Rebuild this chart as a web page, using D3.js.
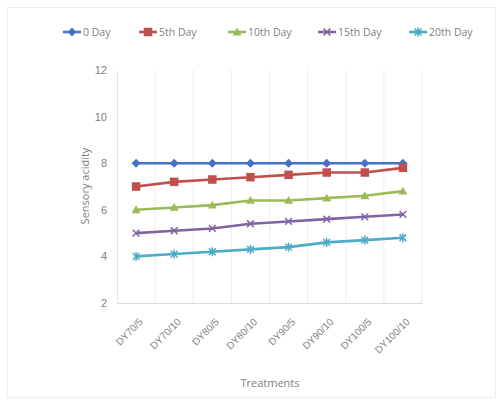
<!DOCTYPE html>
<html>
<head>
<meta charset="utf-8">
<script src="https://cdn.jsdelivr.net/npm/d3@7"></script>
<style>
  body { margin: 0; background: #fff; }
  svg { display: block; font-family: "Open Sans", "Liberation Sans", sans-serif; }
</style>
</head>
<body>
<svg id="chart" width="499" height="402"></svg>
<script>
// Treatments on the x axis
const categories = ["DY70/5", "DY70/10", "DY80/5", "DY80/10", "DY90/5", "DY90/10", "DY100/5", "DY100/10"];

// Sensory acidity scores per storage day
const day0  = [8.0, 8.0, 8.0, 8.0, 8.0, 8.0, 8.0, 8.0];
const day5  = [7.0, 7.2, 7.3, 7.4, 7.5, 7.6, 7.6, 7.8];
const day10 = [6.0, 6.1, 6.2, 6.4, 6.4, 6.5, 6.6, 6.8];
const day15 = [5.0, 5.1, 5.2, 5.4, 5.5, 5.6, 5.7, 5.8];
const day20 = [4.0, 4.1, 4.2, 4.3, 4.4, 4.6, 4.7, 4.8];

const seriesNames = ["0 Day", "5th Day", "10th Day", "15th Day", "20th Day"];
const yTicks = [2, 4, 6, 8, 10, 12];

const seriesValues = [day0, day5, day10, day15, day20];
const colors = ["#4472C4", "#C0504D", "#9BBB59", "#8064A2", "#4BACC6"];
const markers = ["diamond", "square", "triangle", "x", "star"];

const svg = d3.select("#chart");

// faint chart-area frame
svg.append("rect").attr("x", 7.5).attr("y", 7.5).attr("width", 488).attr("height", 390)
  .attr("fill", "#fff").attr("stroke", "#ececec");

const plot = { left: 117, right: 422, top: 70, bottom: 303 };

const x = d3.scaleBand().domain(categories).range([plot.left, plot.right]).padding(0);
const y = d3.scaleLinear().domain([2, 12]).range([plot.bottom, plot.top]);

// vertical gridlines between categories
const bounds = d3.range(1, categories.length + 1).map(i => plot.left + i * x.bandwidth());
svg.append("g").selectAll("line").data(bounds).join("line")
  .attr("x1", d => d).attr("x2", d => d)
  .attr("y1", plot.top).attr("y2", plot.bottom)
  .attr("stroke", "#ececec").attr("stroke-width", 1);

// y axis
const yAxis = d3.axisLeft(y).tickValues(yTicks).tickSize(0).tickPadding(10);
const yg = svg.append("g").attr("transform", `translate(${plot.left},0)`).call(yAxis);
yg.select(".domain").attr("stroke", "#e6e6e6");
yg.selectAll("text").attr("fill", "#7f7f7f").attr("font-size", 11);

// x axis with slanted treatment labels
const xAxis = d3.axisBottom(x).tickSize(0).tickPadding(0);
const xg = svg.append("g").attr("transform", `translate(0,${plot.bottom})`).call(xAxis);
xg.select(".domain").attr("stroke", "#dadada");
xg.selectAll("text")
  .attr("fill", "#7f7f7f").attr("font-size", 10)
  .attr("text-anchor", "end")
  .attr("y", 0)
  .attr("dy", "0.35em")
  .attr("transform", "translate(5,17) rotate(-45)");

// axis titles
svg.append("text").attr("x", 270).attr("y", 387).attr("text-anchor", "middle")
  .attr("fill", "#7f7f7f").attr("font-size", 11).text("Treatments");
svg.append("text").attr("transform", "translate(89,186) rotate(-90)").attr("text-anchor", "middle")
  .attr("fill", "#7f7f7f").attr("font-size", 11).text("Sensory acidity");

// marker drawing
function drawMarker(sel, type, color, size) {
  const s = size;
  if (type === "diamond") {
    sel.append("path").attr("d", `M0,${-s}L${s},0L0,${s}L${-s},0Z`).attr("fill", color);
  } else if (type === "square") {
    sel.append("rect").attr("x", -s * 0.85).attr("y", -s * 0.85).attr("width", s * 1.7).attr("height", s * 1.7)
      .attr("fill", color);
  } else if (type === "triangle") {
    sel.append("path").attr("d", `M0,${-s}L${s},${s * 0.75}L${-s},${s * 0.75}Z`).attr("fill", color);
  } else if (type === "x") {
    const k = s * 0.75;
    sel.append("path").attr("d", `M${-k},${-k}L${k},${k}M${k},${-k}L${-k},${k}`)
      .attr("stroke", color).attr("stroke-width", 1.5).attr("fill", "none");
  } else if (type === "star") {
    const k = s * 0.75;
    sel.append("path").attr("d", `M${-k},${-k}L${k},${k}M${k},${-k}L${-k},${k}M0,${-s}L0,${s}`)
      .attr("stroke", color).attr("stroke-width", 1.5).attr("fill", "none");
  }
}

const line = d3.line()
  .x((d, i) => x(categories[i]) + x.bandwidth() / 2)
  .y(d => y(d));

seriesValues.forEach((vals, si) => {
  const sg = svg.append("g");
  sg.append("path").datum(vals).attr("d", line)
    .attr("fill", "none").attr("stroke", colors[si]).attr("stroke-width", 2.6);
  vals.forEach((v, i) => {
    const m = sg.append("g")
      .attr("transform", `translate(${x(categories[i]) + x.bandwidth() / 2},${y(v)})`);
    drawMarker(m, markers[si], colors[si], si === 1 ? 5 : 4.5);
  });
});

// legend
const legendX = [72, 148, 237, 327, 418];
seriesNames.forEach((name, si) => {
  const lg = svg.append("g").attr("transform", `translate(${legendX[si]},32)`);
  lg.append("line").attr("x1", -9).attr("x2", 9).attr("y1", 0).attr("y2", 0)
    .attr("stroke", colors[si]).attr("stroke-width", 2.6);
  drawMarker(lg, markers[si], colors[si], si === 1 ? 5 : 4.5);
  lg.append("text").attr("x", 11).attr("y", 0).attr("dy", "0.35em")
    .attr("fill", "#7f7f7f").attr("font-size", 10.5).text(name);
});
</script>
</body>
</html>
